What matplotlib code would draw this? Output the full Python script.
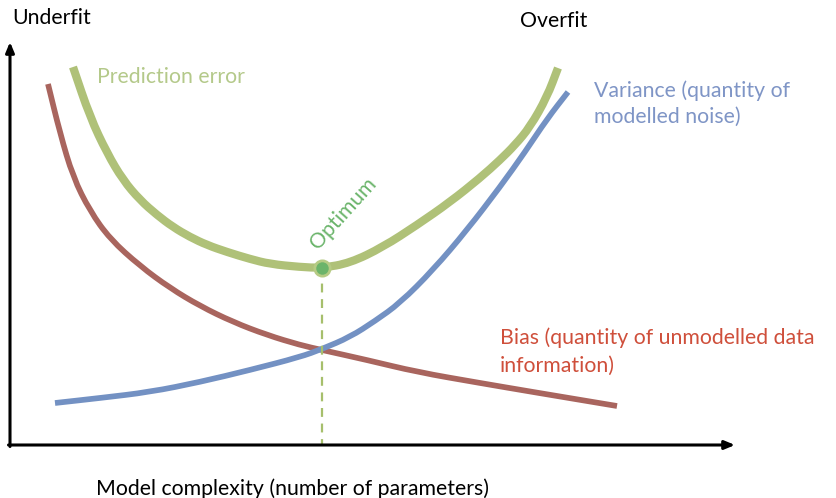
import matplotlib
matplotlib.use('Agg')
from matplotlib import pyplot as plt
from matplotlib.path import Path
from matplotlib.patches import PathPatch

# curves (pixel-like units, y grows downwards)
error_x = [73, 90, 107, 123, 140, 157, 173, 190, 207, 227, 250, 270, 300, 322,
           350, 383, 417, 450, 480, 500, 515, 530, 547, 558]
error_y = [67, 117, 153, 180, 200, 215, 227, 237, 245, 252, 259, 264, 267, 268,
           263, 247, 225, 202, 178, 160, 145, 127, 97, 68]

bias_x = [48, 60, 73, 90, 110, 140, 170, 200, 233, 267, 300, 322, 367, 417,
          480, 533, 617]
bias_y = [84, 133, 177, 211, 239, 266, 288, 306, 322, 335, 345, 350, 360, 372,
          383, 392, 406]

var_x = [55, 100, 150, 200, 250, 300, 322, 350, 375, 400, 433, 467, 500, 525,
         547, 568]
var_y = [403, 398, 392, 382, 370, 357, 349, 337, 321, 303, 270, 230, 187, 152,
         119, 92]

optimum = (322, 268)
origin = (10, 445)
x_tip = 735
y_tip = 42

GREEN = '#afc178'
RED = '#a9655e'
BLUE = '#7391c3'
FONT = ['Lato', 'DejaVu Sans']


def smooth(xs, ys):
    # quadratic bezier through segment midpoints, read points as controls
    pts = list(zip(xs, ys))
    verts = [pts[0]]
    codes = [Path.MOVETO]
    mids = [((a[0] + b[0]) / 2, (a[1] + b[1]) / 2) for a, b in zip(pts, pts[1:])]
    verts.append(mids[0])
    codes.append(Path.LINETO)
    for p, m in zip(pts[1:-1], mids[1:]):
        verts += [p, m]
        codes += [Path.CURVE3, Path.CURVE3]
    verts.append(pts[-1])
    codes.append(Path.LINETO)
    return Path(verts, codes)


def curve(ax, xs, ys, color, lw):
    ax.add_patch(PathPatch(smooth(xs, ys), fill=False, edgecolor=color, lw=lw,
                           capstyle='butt', joinstyle='round'))


def main():
    fig = plt.figure(figsize=(8.36, 4.98), dpi=100)
    ax = fig.add_axes([0, 0, 1, 1])
    ax.set_xlim(0, 836)
    ax.set_ylim(498, 0)
    ax.axis('off')

    # axes arrows
    arrow = dict(arrowstyle='-|>,head_length=0.6,head_width=0.25',
                 color='black', lw=2.2, shrinkA=0, shrinkB=0)
    ax.annotate('', xy=(x_tip, origin[1]), xytext=(origin[0] - 1.5, origin[1]),
                arrowprops=arrow)
    ax.annotate('', xy=(origin[0], y_tip), xytext=(origin[0], origin[1] + 1.5),
                arrowprops=arrow)

    # optimum guide
    ax.plot([optimum[0], optimum[0]], [optimum[1], origin[1]], '--',
            color='#a6bf6c', lw=1.6, dashes=(4, 3))

    curve(ax, bias_x, bias_y, RED, 4.1)
    curve(ax, var_x, var_y, BLUE, 4.1)
    curve(ax, error_x, error_y, GREEN, 5.9)
    ax.plot(*optimum, 'o', ms=11, mfc='#6cb46a', mec='#b6cb84', mew=2)

    fs = 15.3
    kw = dict(fontsize=fs, family=FONT, va='baseline')
    ax.text(12, 24, 'Underfit', **kw)
    ax.text(520, 27, 'Overfit', **kw)
    ax.text(97, 83, 'Prediction error', color='#b4c98a', **kw)
    ax.text(594, 97, 'Variance (quantity of', color='#7f95c6', **kw)
    ax.text(594, 123, 'modelled noise)', color='#7f95c6', **kw)
    ax.text(500, 344, 'Bias (quantity of unmodelled data', color='#cf4f3b', **kw)
    ax.text(500, 372, 'information)', color='#cf4f3b', **kw)
    ax.text(292, 495, 'Model complexity (number of parameters)', ha='center', **kw)
    ax.text(343, 213, 'Optimum', fontsize=fs, family=FONT, va='center',
            ha='center', rotation=48, rotation_mode='anchor', color='#6ab46a')

    fig.savefig('out.png', dpi=100)


if __name__ == '__main__':
    main()
